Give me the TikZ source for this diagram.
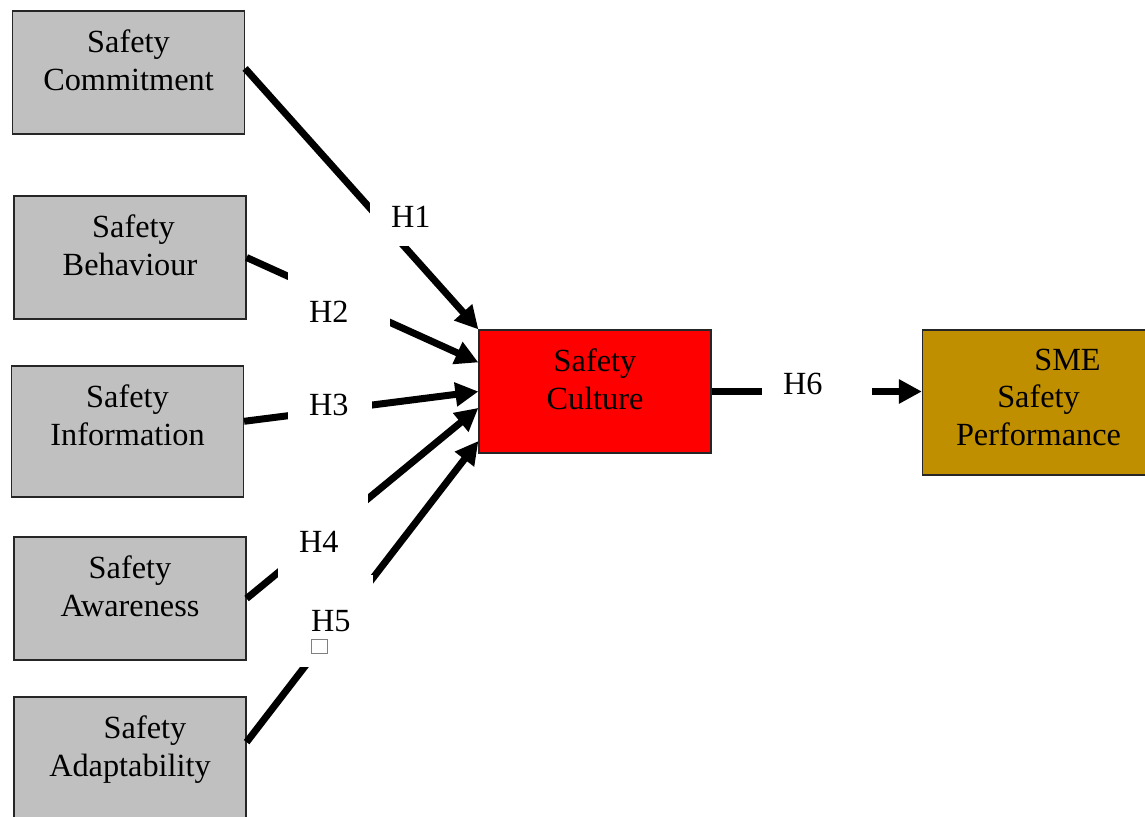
\documentclass[tikz,border=0pt]{standalone}
\usepackage{fontspec}
\setmainfont{Liberation Serif}
\usetikzlibrary{arrows.meta,positioning}

\definecolor{boxgray}{RGB}{192,192,192}
\definecolor{smegold}{RGB}{191,143,0}

\begin{document}
\begin{tikzpicture}[x=1pt, y=-1pt,
    factor/.style={rectangle, draw=black!85, line width=1.2pt, fill=boxgray, inner sep=0pt, minimum width=232pt, minimum height=123pt},
    boxtext/.style={align=center, inner sep=0pt, font=\fontsize{32.3}{37.5}\selectfont},
    link/.style={line width=7pt, -{Triangle[length=23pt, width=23pt]}},
    hyp/.style={fill=white, inner xsep=21pt, inner ysep=0pt, align=left, font=\fontsize{32.3}{37}\selectfont}
]
    \useasboundingbox (0,0) rectangle (1145,816);

    % Safety factors
    \node[factor] (commit) at (128.5,72.5) {};
    \node[factor] (behav) at (130,257.5) {};
    \node[factor, minimum height=131pt] (info) at (127.5,431.5) {};
    \node[factor] (aware) at (130,598.5) {};
    \node[factor] (adapt) at (130,758.5) {};

    % Culture and performance
    \node[factor, fill=red] (culture) at (595,391.5) {};
    \node[factor, fill=smegold, minimum height=145pt] (sme) at (1038.5,402.5) {};

    % Box texts
    \node[boxtext, below=19.5pt of commit.north] (commit-t) {Safety\\Commitment};
    \node[boxtext, below=19.5pt of behav.north] (behav-t) {\hspace*{7pt}Safety\\Behaviour};
    \node[boxtext, below=19.5pt of info.north] (info-t) {Safety\\Information};
    \node[boxtext, below=19.5pt of aware.north] (aware-t) {Safety\\Awareness};
    \node[boxtext, below=19.5pt of adapt.north] (adapt-t) {\hspace*{30pt}Safety\\Adaptability};
    \node[boxtext, below=19.5pt of culture.north] (culture-t) {Safety\\Culture};
    \node[boxtext, below=19.5pt of sme.north] (sme-t) {\hspace*{58pt}SME\\Safety\\Performance};

    % Hypotheses
    \draw[link] (commit.2) -- (culture.north west);
    \draw[link] (behav.east) -- (culture.166);
    \draw[link] (info.5) -- (culture.west);
    \draw[link] (aware.east) -- (culture.188);
    \draw[link] (adapt.8) -- (culture.203);
    \draw[link] (culture.east) -- (culture.east -| sme.west);

    % Labels
    \node[hyp, text width=58pt, minimum height=58pt] (h1) at (420,217) {H1};
    \node[hyp, text width=60pt, minimum height=80pt] (h2) at (339,312) {H2};
    \node[hyp, text width=42pt, minimum height=60pt] (h3) at (330,405) {H3};
    \node[hyp, text width=48pt, minimum height=100pt] (h4) at (323,542) {H4};
    \node[hyp, text width=41pt, minimum height=92pt] (h5) at (331.5,621) {H5};
    \node[draw=black!50, fill=white, line width=0.8pt, inner sep=0pt, minimum width=16pt, minimum height=14pt] (h5-box) at (319,646) {};
    \node[hyp, text width=68pt, minimum height=60pt] (h6) at (817,384) {H6};

\end{tikzpicture}
\end{document}
